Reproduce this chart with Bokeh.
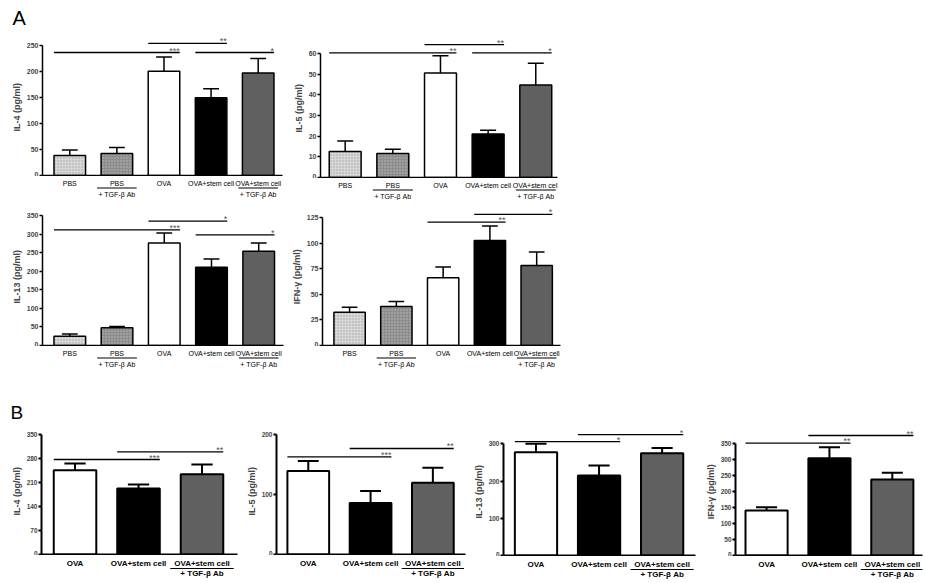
from bokeh.plotting import figure
from bokeh.layouts import row, column, Spacer
from bokeh.models import FixedTicker, Range1d
from bokeh.core.properties import value
from bokeh.embed import file_html
from bokeh.resources import INLINE

FONT = "Liberation Sans"

# ---------------- data ----------------
A_groups = ["PBS", "PBS", "OVA", "OVA+stem cell", "OVA+stem cell"]
A_tgf = [False, True, False, False, True]
B_groups = ["OVA", "OVA+stem cell", "OVA+stem cell"]
B_tgf = [False, False, True]
TGF_LABEL = "+ TGF-\u03b2 Ab"

A_il4_mean = [38.6, 42.4, 200.5, 149.7, 197.0]
A_il4_sem = [10.2, 11.6, 27.5, 17.3, 28.0]
A_il4_ticks = [0, 50, 100, 150, 200, 250]
A_il4_sig = [(0, 2, 236.5, "***"), (2, 3, 254.0, "**"), (3, 4, 236.5, "*")]

A_il5_mean = [12.6, 11.6, 50.5, 21.0, 44.7]
A_il5_sem = [5.1, 2.1, 8.4, 1.9, 10.6]
A_il5_ticks = [0, 10, 20, 30, 40, 50, 60]
A_il5_sig = [(0, 2, 60.3, "**"), (2, 3, 64.3, "**"), (3, 4, 60.3, "*")]

A_il13_mean = [25.0, 48.0, 276.0, 211.0, 254.0]
A_il13_sem = [6.0, 3.0, 27.0, 22.0, 22.0]
A_il13_ticks = [0, 50, 100, 150, 200, 250, 300, 350]
A_il13_sig = [(0, 2, 311.5, "***"), (2, 3, 335.0, "*"), (3, 4, 298.0, "*")]

A_ifn_mean = [32.6, 38.2, 66.3, 102.8, 78.3]
A_ifn_sem = [4.9, 4.8, 10.4, 14.2, 13.1]
A_ifn_ticks = [0, 25, 50, 75, 100, 125]
A_ifn_sig = [(2, 3, 120.8, "**"), (3, 4, 128.3, "*")]

B_il4_mean = [246.0, 192.5, 234.0]
B_il4_sem = [19.4, 11.5, 28.5]
B_il4_ticks = [0, 70, 140, 210, 280, 350]
B_il4_sig = [(0, 1, 277.0, "***"), (1, 2, 299.4, "**")]

B_il5_mean = [139.0, 86.0, 119.4]
B_il5_sem = [17.0, 20.0, 25.0]
B_il5_ticks = [0, 100, 200]
B_il5_sig = [(0, 1, 162.8, "***"), (1, 2, 176.7, "**")]

B_il13_mean = [277.6, 215.0, 275.0]
B_il13_sem = [22.4, 26.8, 14.0]
B_il13_ticks = [0, 100, 200, 300]
B_il13_sig = [(0, 1, 306.0, "*"), (1, 2, 325.0, "*")]

B_ifn_mean = [141.0, 305.0, 238.0]
B_ifn_sem = [10.5, 34.6, 21.0]
B_ifn_ticks = [0, 50, 100, 150, 200, 250, 300, 350]
B_ifn_sig = [(0, 1, 352.0, "**"), (1, 2, 376.0, "**")]

# ---------------- styles ----------------
A_styles = [
    dict(fill_color="#d8d8d8", hatch_pattern="dot", hatch_color="#a0a0a0", hatch_scale=3, hatch_weight=1),
    dict(fill_color="#8c8c8c", hatch_pattern="dot", hatch_color="#bdbdbd", hatch_scale=3, hatch_weight=1),
    dict(fill_color="white"),
    dict(fill_color="black"),
    dict(fill_color="#606060"),
]
B_styles = [dict(fill_color="white"), dict(fill_color="black"), dict(fill_color="#606060")]

BAR_W = 0.67


def bare(width, height, xr, yr, left=0, right=0):
    f = figure(width=width, height=height, output_backend="svg", toolbar_location=None,
               x_range=xr, y_range=yr, x_axis_type=None, y_axis_type=None, title=None,
               min_border=0, min_border_left=left, min_border_right=right,
               min_border_top=0, min_border_bottom=0)
    f.outline_line_color = None
    f.background_fill_color = "white"
    f.border_fill_color = "white"
    return f


def letter_strip(width, height, txt, lx, ly, fs):
    lf = bare(width, height, Range1d(0, width), Range1d(height, 0))
    lf.text(x=[lx], y=[ly], text=[txt], text_align="left", text_baseline="middle",
            text_font=value(FONT), text_font_size=fs, text_color="black")
    return lf


def make_panel(width, top, frame_h, strip_h, lr, xr, ymax, ticks, ylabel, groups, tgf, means,
               sems, sig, styles, big, ul_half, offs):
    left, right = lr
    xrange = Range1d(*xr)
    p = figure(width=width, height=top + frame_h + 1, output_backend="svg", toolbar_location=None,
               x_range=xrange, y_range=Range1d(0, ymax), title=None,
               min_border_left=left, min_border_right=right,
               min_border_top=top, min_border_bottom=1)
    p.outline_line_color = None
    p.xgrid.visible = False
    p.ygrid.visible = False
    p.background_fill_color = "white"
    p.border_fill_color = "white"

    lw = 2.0 if big else 1.5
    ya = p.yaxis[0]
    ya.ticker = FixedTicker(ticks=ticks)
    ya.bounds = (0, ticks[-1])
    ya.axis_line_width = lw
    ya.major_tick_line_width = lw
    ya.major_tick_in = 0
    ya.major_tick_out = 3
    ya.minor_tick_line_color = None
    ya.major_label_standoff = 1
    ya.major_label_text_font = FONT
    ya.major_label_text_font_style = "bold"
    ya.major_label_text_font_size = "6.5px" if big else "7px"
    ya.axis_label = ylabel
    ya.axis_label_text_font = FONT
    ya.axis_label_text_font_style = "bold"
    ya.axis_label_text_font_size = "9px"
    ya.axis_label_standoff = 2

    xa = p.xaxis[0]
    xa.ticker = FixedTicker(ticks=[])
    xa.axis_line_width = lw
    xa.major_tick_line_color = None
    xa.major_tick_in = 0
    xa.major_tick_out = 0
    xa.minor_tick_line_color = None
    xa.major_label_standoff = 0

    n = len(groups)
    for i in range(n):
        p.vbar(x=[i], top=[means[i]], bottom=0, width=BAR_W, line_color="black",
               line_width=lw, **styles[i])
    xs = list(range(n))
    tops = [m + s for m, s in zip(means, sems)]
    cw = BAR_W * 0.25
    p.segment(x0=xs, y0=means, x1=xs, y1=tops, line_color="black", line_width=lw)
    p.segment(x0=[x - cw for x in xs], y0=tops, x1=[x + cw for x in xs], y1=tops,
              line_color="black", line_width=lw)

    # significance brackets with stars sitting just above the line's right end
    pxu = frame_h / ymax
    sx0 = [a - BAR_W / 2 for a, b, y, s in sig]
    sx1 = [b + BAR_W / 2 for a, b, y, s in sig]
    sy = [y for a, b, y, s in sig]
    st = [s for a, b, y, s in sig]
    p.segment(x0=sx0, y0=sy, x1=sx1, y1=sy, line_color="black", line_width=1.3)
    p.text(x=sx1, y=[y + 2.0 / pxu for y in sy], text=st, text_align="right",
           text_baseline="middle", text_font=value(FONT), text_font_size="9px",
           text_color="#555555")

    # label strip below the x axis (y = pixels below the axis line)
    s = bare(width, strip_h, xrange, Range1d(strip_h + 1, 1), left, right)
    fs = "8px" if big else "7px"
    fst = "bold" if big else "normal"
    y1, yu, y2 = offs
    s.text(x=xs, y=[y1] * n, text=groups, text_align="center", text_baseline="middle",
           text_font=value(FONT), text_font_size=fs, text_font_style=fst, text_color="black")
    ti = [i for i in range(n) if tgf[i]]
    s.segment(x0=[i - ul_half for i in ti], y0=[yu] * len(ti), x1=[i + ul_half for i in ti],
              y1=[yu] * len(ti), line_color="black", line_width=1.2)
    s.text(x=ti, y=[y2] * len(ti), text=[TGF_LABEL] * len(ti), text_align="center",
           text_baseline="middle", text_font=value(FONT), text_font_size=fs,
           text_font_style=fst, text_color="black")
    return column(p, s, spacing=0)


a1 = make_panel(282, 0, 139, 24, (32, 8), (-0.579, 4.516), 267.3, A_il4_ticks, "IL-4  (pg/ml)",
                A_groups, A_tgf, A_il4_mean, A_il4_sem, A_il4_sig, A_styles, False, 0.42,
                (8.4, 12.5, 19))
a2 = make_panel(275, 0, 141, 22, (27, 8), (-0.518, 4.456), 68.2, A_il5_ticks, "IL-5  (pg/ml)",
                A_groups, A_tgf, A_il5_mean, A_il5_sem, A_il5_sig, A_styles, False, 0.42,
                (8.4, 12.5, 19))
a3 = make_panel(280, 5, 140, 24, (32, 5), (-0.578, 4.525), 377.0, A_il13_ticks, "IL-13  (pg/ml)",
                A_groups, A_tgf, A_il13_mean, A_il13_sem, A_il13_sig, A_styles, False, 0.42,
                (8.4, 12.5, 19))
a4 = make_panel(282, 5, 140, 24, (30, 10), (-0.579, 4.509), 137.0, A_ifn_ticks, "IFN-\u03b3  (pg/ml)",
                A_groups, A_tgf, A_ifn_mean, A_ifn_sem, A_ifn_sig, A_styles, False, 0.42,
                (8.4, 12.5, 19))

b1 = make_panel(235, 1, 129, 27, (33, 6), (-0.528, 2.559), 376.2, B_il4_ticks, "IL-4  (pg/ml)",
                B_groups, B_tgf, B_il4_mean, B_il4_sem, B_il4_sig, B_styles, True, 0.5,
                (9, 14, 19))
b2 = make_panel(227, 1, 129, 27, (29, 5), (-0.51, 2.524), 215.0, B_il5_ticks, "IL-5  (pg/ml)",
                B_groups, B_tgf, B_il5_mean, B_il5_sem, B_il5_sig, B_styles, True, 0.5,
                (9, 14, 19))
b3 = make_panel(232, 1, 130, 26, (31, 7), (-0.515, 2.529), 349.3, B_il13_ticks, "IL-13  (pg/ml)",
                B_groups, B_tgf, B_il13_mean, B_il13_sem, B_il13_sig, B_styles, True, 0.5,
                (9, 14, 19))
b4 = make_panel(221, 1, 130, 26, (30, 1), (-0.494, 2.48), 407.4, B_ifn_ticks, "IFN-\u03b3  (pg/ml)",
                B_groups, B_tgf, B_ifn_mean, B_ifn_sem, B_ifn_sig, B_styles, True, 0.5,
                (9, 14, 19))

lab_a = letter_strip(557, 28, "A", 4, 9.5, "20px")
lab_b = letter_strip(300, 54, "B", 2, 41.5, "19px")

main = column(lab_a, row(a1, a2, spacing=0), row(a3, a4, spacing=0), lab_b,
              row(b1, b2, b3, b4, spacing=0), spacing=0)
layout = column(Spacer(height=8), row(Spacer(width=8), main, spacing=0), spacing=0)

open("out.html", "w").write(file_html(layout, INLINE))
